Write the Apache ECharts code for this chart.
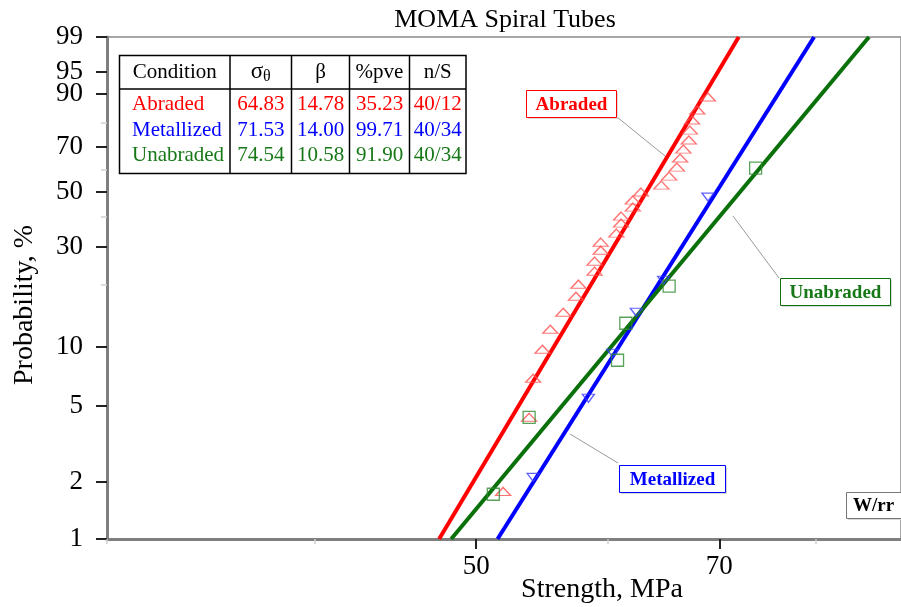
<!DOCTYPE html>
<html>
<head>
<meta charset="utf-8">
<title>MOMA Spiral Tubes</title>
<script src="https://cdn.jsdelivr.net/npm/echarts@6/dist/echarts.min.js"></script>
<style>
    html, body { margin: 0; padding: 0; background: #fff; }
    #chart { width: 901px; height: 607px; }
</style>
</head>
<body>
<div id="chart"></div>
<script>
// table of fit results
var conditions = ["Abraded", "Metallized", "Unabraded"];
var sigmaTheta = ["64.83", "71.53", "74.54"];
var betaVals = ["14.78", "14.00", "10.58"];
var pveVals = ["35.23", "99.71", "91.90"];
var nsVals = ["40/12", "40/34", "40/34"];

// axis ticks
var xMajorTicks = [50, 70];
var xMinorTicks = [30, 40, 60, 80];
var yMajorTicks = [1, 2, 5, 10, 30, 50, 70, 90, 95, 99];
var yMinorTicks = [20, 40, 60, 80];

// failure points (strength MPa, probability %)
var abradedS = [51.9, 53.8, 54.1, 54.8, 55.4, 56.4, 57.4, 57.6, 58.9, 58.9, 59.4, 59.4, 60.7, 61.1,
    61.1, 62.1, 62.1, 62.8, 64.6, 65.3, 66.0, 66.3, 66.6, 67.1, 67.2, 67.4, 67.9, 68.9];
var abradedP = [1.78, 4.34, 6.90, 9.69, 12.19, 14.79, 17.68, 20.18, 23.22, 25.81, 28.92, 31.37, 34.31, 37.80,
    40.39, 43.87, 46.67, 50.02, 53.00, 56.95, 60.97, 65.02, 69.03, 72.99, 77.19, 81.18, 84.85, 89.05];
var metallizedS = [54.1, 58.4, 60.4, 62.4, 64.8, 68.9];
var metallizedP = [2.11, 5.45, 9.25, 14.79, 21.08, 47.92];
var unabradedS = [51.2, 53.8, 60.8, 61.5, 65.3, 73.6];
var unabradedP = [1.72, 4.34, 8.52, 13.06, 19.75, 60.53];

// fit lines: strength at 1% and 99%
var lineP = [1, 99];
var abradedLineS = [47.5, 71.9];
var metallizedLineS = [51.5, 79.8];
var unabradedLineS = [48.3, 86.1];

var RED = "#ff0000", BLUE = "#0000ff", GREEN = "#0a700a", GREEN_TXT = "#167816";
var FONT = "Liberation Serif";

// Weibull paper: x = ln(strength), y = ln(-ln(1-F))
function tx(s) { return Math.log(s); }
function ty(p) { return Math.log(-Math.log(1 - p / 100)); }
function pairs(sArr, pArr) {
    var out = [];
    for (var i = 0; i < sArr.length; i++) out.push([tx(sArr[i]), ty(pArr[i])]);
    return out;
}

var chart = echarts.init(document.getElementById("chart"));

var xBase = {
    type: "value", gridIndex: 0, position: "bottom",
    min: tx(30), max: tx(90),
    splitLine: { show: false }
};
var yBase = {
    type: "value", gridIndex: 0, position: "left",
    min: ty(1), max: ty(99),
    splitLine: { show: false }
};

// table graphic
var tbl = [];
var tL = 119.5, tT = 55.5, tR = 466, tB = 173.5, hB = 89;
var colX = [230, 291.5, 349.5, 409.5];
tbl.push({ type: "rect", shape: { x: tL, y: tT, width: tR - tL, height: tB - tT },
    style: { fill: "#fff", stroke: "#000", lineWidth: 1.5 } });
tbl.push({ type: "line", shape: { x1: tL, y1: hB, x2: tR, y2: hB }, style: { stroke: "#000", lineWidth: 1.5 } });
colX.forEach(function(x) {
    tbl.push({ type: "line", shape: { x1: x, y1: tT, x2: x, y2: tB }, style: { stroke: "#000", lineWidth: 1.5 } });
});
var colC = [(tL + colX[0]) / 2, (colX[0] + colX[1]) / 2, (colX[1] + colX[2]) / 2, (colX[2] + colX[3]) / 2, (colX[3] + tR) / 2];
var headers = ["Condition", "{s|σ}{sub|θ}", "β", "%pve", "n/S"];
headers.forEach(function(h, i) {
    tbl.push({ type: "text", x: colC[i], y: 72,
        style: { text: h, font: "21px " + FONT, fill: "#000", align: "center", verticalAlign: "middle",
            rich: { s: { fontSize: 23, fontFamily: FONT }, sub: { fontSize: 16, fontFamily: FONT, padding: [10, 0, 0, 0] } } } });
});
var rowColors = [RED, BLUE, GREEN_TXT];
var rowY = [104, 130, 155];
conditions.forEach(function(c, r) {
    var vals = [sigmaTheta[r], betaVals[r], pveVals[r], nsVals[r]];
    tbl.push({ type: "text", x: 132, y: rowY[r],
        style: { text: c, font: "21px " + FONT, fill: rowColors[r], align: "left", verticalAlign: "middle" } });
    vals.forEach(function(v, i) {
        tbl.push({ type: "text", x: colC[i + 1], y: rowY[r],
            style: { text: v, font: "21px " + FONT, fill: rowColors[r], align: "center", verticalAlign: "middle" } });
    });
});

// callout boxes
function callout(x, y, w, h, txt, color, border, lx1, ly1, lx2, ly2) {
    var g = [];
    if (lx1 != null) {
        g.push({ type: "line", shape: { x1: lx1, y1: ly1, x2: lx2, y2: ly2 }, style: { stroke: "#9a9a9a", lineWidth: 1 } });
    }
    g.push({ type: "rect", shape: { x: x + 1.5, y: y + 1.5, width: w, height: h }, style: { fill: "#d8d8d8" } });
    g.push({ type: "rect", shape: { x: x, y: y, width: w, height: h }, style: { fill: "#fff", stroke: border, lineWidth: 1 } });
    g.push({ type: "text", x: x + w / 2, y: y + h / 2 + 1,
        style: { text: txt, font: "bold 19px " + FONT, fill: color, align: "center", verticalAlign: "middle" } });
    return g;
}

var graphics = [].concat(
    tbl,
    callout(526.5, 90.5, 90, 27, "Abraded", RED, RED, 617, 117, 665, 156),
    callout(780.5, 278.5, 110, 27, "Unabraded", GREEN_TXT, GREEN, 779, 278, 733, 216),
    callout(619.5, 465.5, 106, 27, "Metallized", BLUE, BLUE, 618, 463, 570, 434),
    callout(846.5, 492.5, 70, 26, "", "#000", "#777", null),
    [
        { type: "text", x: 853, y: 506, style: { text: "W/rr", font: "bold 19px " + FONT, fill: "#000", align: "left", verticalAlign: "middle" } },
        { type: "text", x: 602, y: 590, style: { text: "Strength, MPa", font: "28px " + FONT, fill: "#000", align: "center", verticalAlign: "middle" } },
        { type: "text", x: 25, y: 305, rotation: Math.PI / 2,
            style: { text: "Probability, %", font: "28px " + FONT, fill: "#000", align: "center", verticalAlign: "middle" } }
    ]
);

var option = {
    backgroundColor: "#fff",
    animation: false,
    title: {
        text: "MOMA Spiral Tubes", left: 500, top: 2, textAlign: "center",
        textStyle: { fontFamily: FONT, fontSize: 26, fontWeight: "normal", color: "#000" }
    },
    grid: { left: 107, top: 37, width: 800, height: 502, show: true, borderColor: "#8a8a8a", borderWidth: 1.5 },
    xAxis: [
        echarts.util.merge({
            axisLine: { show: true, onZero: false, lineStyle: { color: "#7f7f7f", width: 3 } },
            axisTick: { show: true, customValues: xMajorTicks.map(tx), length: 10, lineStyle: { color: "#222", width: 2 } },
            axisLabel: { show: true, customValues: xMajorTicks.map(tx), margin: 14,
                formatter: function(v) { return Math.round(Math.exp(v)); },
                fontFamily: FONT, fontSize: 27, color: "#000" }
        }, xBase, true),
        echarts.util.merge({
            axisLine: { show: false, onZero: false },
            axisTick: { show: true, customValues: xMinorTicks.map(tx), length: 5, lineStyle: { color: "#cfcfcf", width: 1.5 } },
            axisLabel: { show: false }
        }, xBase, true)
    ],
    yAxis: [
        echarts.util.merge({
            axisLine: { show: true, onZero: false, lineStyle: { color: "#7f7f7f", width: 3 } },
            axisTick: { show: true, customValues: yMajorTicks.map(ty), length: 11, lineStyle: { color: "#222", width: 2 } },
            axisLabel: { show: true, customValues: yMajorTicks.map(ty), margin: 24,
                formatter: function(v) { return Math.round(100 * (1 - Math.exp(-Math.exp(v)))); },
                fontFamily: FONT, fontSize: 27, color: "#000" }
        }, yBase, true),
        echarts.util.merge({
            axisLine: { show: false, onZero: false },
            axisTick: { show: true, customValues: yMinorTicks.map(ty), length: 6, lineStyle: { color: "#cfcfcf", width: 1.5 } },
            axisLabel: { show: false }
        }, yBase, true)
    ],
    series: [
        { name: "Abraded fit", type: "line", data: pairs(abradedLineS, lineP), symbol: "none",
            lineStyle: { color: RED, width: 4 }, z: 3 },
        { name: "Metallized fit", type: "line", data: pairs(metallizedLineS, lineP), symbol: "none",
            lineStyle: { color: BLUE, width: 4 }, z: 3 },
        { name: "Unabraded fit", type: "line", data: pairs(unabradedLineS, lineP), symbol: "none",
            lineStyle: { color: GREEN, width: 4 }, z: 3 },
        { name: "Abraded", type: "scatter", data: pairs(abradedS, abradedP), symbol: "triangle", symbolSize: [15, 8],
            itemStyle: { color: "rgba(255,255,255,0)", borderColor: "#ff5050", borderWidth: 1.3 }, z: 4 },
        { name: "Metallized", type: "scatter", data: pairs(metallizedS, metallizedP), symbol: "triangle", symbolRotate: 180,
            symbolSize: [12, 8], itemStyle: { color: "rgba(255,255,255,0)", borderColor: "#3a3aff", borderWidth: 1.3 }, z: 4 },
        { name: "Unabraded", type: "scatter", data: pairs(unabradedS, unabradedP), symbol: "rect", symbolSize: 12,
            itemStyle: { color: "rgba(255,255,255,0)", borderColor: "#2e8b2e", borderWidth: 1.3 }, z: 4 }
    ],
    graphic: graphics
};
chart.setOption(option);
</script>
</body>
</html>
